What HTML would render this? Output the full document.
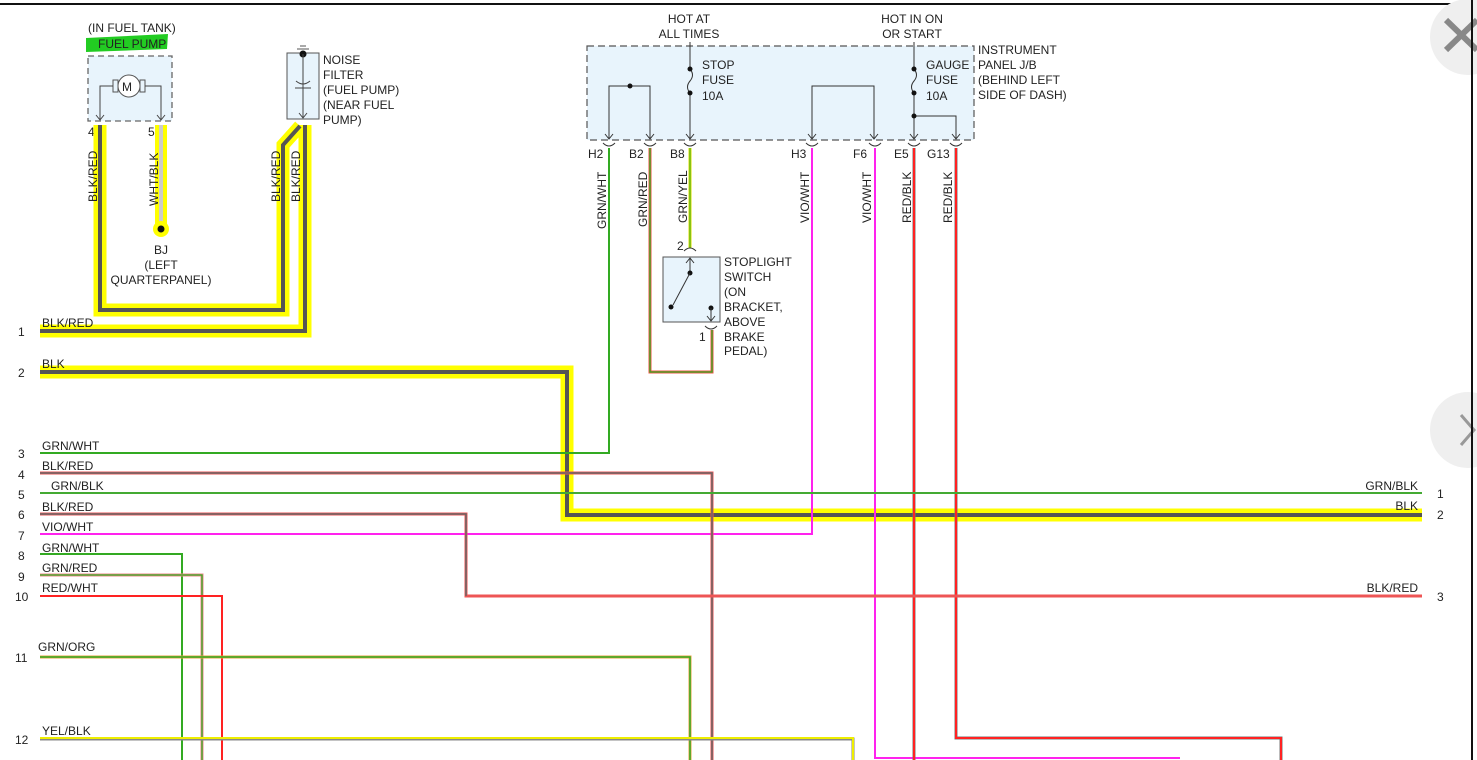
<!DOCTYPE html>
<html><head><meta charset="utf-8"><style>
html,body{margin:0;padding:0;background:#fff;width:1477px;height:760px;overflow:hidden}
svg{display:block}
text{font-family:"Liberation Sans",Arial,sans-serif;font-size:12px;fill:#222}
</style></head><body>
<svg width="1477" height="760" viewBox="0 0 1477 760" xmlns="http://www.w3.org/2000/svg">
<line x1="0" y1="4" x2="1473" y2="4" stroke="#111" stroke-width="2"/>
<line x1="1472" y1="4" x2="1472" y2="760" stroke="#111" stroke-width="2"/>

<text x="88" y="32">(IN FUEL TANK)</text>
<polygon points="86,38 168,34 167,49 86,52" fill="#22cc22"/>
<text x="98" y="48">FUEL PUMP</text>
<rect x="88" y="56" width="84" height="65" fill="#e8f4fc" stroke="#666" stroke-dasharray="6,4" stroke-width="1.3"/>
<circle cx="129" cy="86" r="11" fill="#fff" stroke="#555"/>
<text x="122" y="91" font-size="14">M</text>
<rect x="113" y="80" width="5" height="12" fill="none" stroke="#555"/>
<rect x="140" y="80" width="5" height="12" fill="none" stroke="#555"/>
<polyline points="113,86 100,86 100,120" fill="none" stroke="#444"/>
<polyline points="145,86 161,86 161,120" fill="none" stroke="#444"/>
<polyline points="96,115 100,120 104,115" fill="none" stroke="#444"/>
<polyline points="157,115 161,120 165,115" fill="none" stroke="#444"/>
<text x="88" y="136">4</text><text x="148" y="136">5</text>

<rect x="287" y="53" width="32" height="66" fill="#e8f4fc" stroke="#555"/>
<line x1="297" y1="49" x2="309" y2="49" stroke="#555"/><line x1="300" y1="46" x2="306" y2="46" stroke="#555"/>
<circle cx="303" cy="54" r="3.5" fill="#111"/>
<line x1="303" y1="54" x2="303" y2="118" stroke="#444"/>
<path d="M296,81 Q303,87 310,81" fill="none" stroke="#444"/>
<line x1="295" y1="88" x2="311" y2="88" stroke="#444"/>
<polyline points="299,113 303,118 307,113" fill="none" stroke="#444"/>
<text x="323" y="64">NOISE</text><text x="323" y="79">FILTER</text><text x="323" y="94">(FUEL PUMP)</text><text x="323" y="109">(NEAR FUEL</text><text x="323" y="124">PUMP)</text>

<g fill="none" stroke-linejoin="miter">
<polyline points="100,125 100,310 283,310 283,145 300,126" stroke="#ffff00" stroke-width="13"/>
<polyline points="305,125 305,331 40,331" stroke="#ffff00" stroke-width="13"/>
<polyline points="161,125 161,228" stroke="#ffff00" stroke-width="12"/>
<polyline points="40,372 567,372 567,515 1422,515" stroke="#ffff00" stroke-width="13"/>
<polyline points="100,125 100,310 283,310 283,145 300,126" stroke="#555" stroke-width="4"/>
<polyline points="305,125 305,331 40,331" stroke="#555" stroke-width="4"/>
<polyline points="161,125 161,228" stroke="#ccc" stroke-width="4"/>
<polyline points="40,372 567,372 567,515 1422,515" stroke="#555" stroke-width="4"/>
</g>
<circle cx="161" cy="229" r="8" fill="#ffff00"/><circle cx="161" cy="229" r="3.5" fill="#111"/>
<text x="161" y="254" text-anchor="middle">BJ</text>
<text x="161" y="269" text-anchor="middle">(LEFT</text>
<text x="161" y="284" text-anchor="middle">QUARTERPANEL)</text>
<text transform="translate(97,202) rotate(-90)">BLK/RED</text>
<text transform="translate(158,206) rotate(-90)">WHT/BLK</text>
<text transform="translate(280,202) rotate(-90)">BLK/RED</text>
<text transform="translate(300,202) rotate(-90)">BLK/RED</text>

<text x="689" y="23" text-anchor="middle">HOT AT</text><text x="689" y="38" text-anchor="middle">ALL TIMES</text>
<text x="912" y="23" text-anchor="middle">HOT IN ON</text><text x="912" y="38" text-anchor="middle">OR START</text>
<rect x="587" y="46" width="387" height="94" fill="#e8f4fc" stroke="#555" stroke-dasharray="7,4" stroke-width="1.2"/>
<text x="978" y="54">INSTRUMENT</text><text x="978" y="69">PANEL J/B</text><text x="978" y="84">(BEHIND LEFT</text><text x="978" y="99">SIDE OF DASH)</text>
<g stroke="#333" fill="none">
<polyline points="609,139 609,86 650,86 650,139"/>
<polyline points="812,139 812,86 874,86 874,139"/>
<path d="M690,42 V69 Q695,75 690,81 Q685,87 690,93 V139"/>
<path d="M914,42 V69 Q919,75 914,81 Q909,87 914,93 V139"/>
<polyline points="914,116 956,116 956,139"/>
</g>
<g fill="#111"><circle cx="630" cy="86" r="2.5"/><circle cx="690" cy="69" r="2.5"/><circle cx="690" cy="93" r="2.5"/><circle cx="914" cy="69" r="2.5"/><circle cx="914" cy="93" r="2.5"/><circle cx="914" cy="116" r="2.5"/></g>
<text x="702" y="69">STOP</text><text x="702" y="84">FUSE</text><text x="702" y="100">10A</text>
<text x="926" y="69">GAUGE</text><text x="926" y="84">FUSE</text><text x="926" y="100">10A</text>
<g stroke="#333" fill="none">
<path d="M605,134 l4,5 l4,-5 M646,134 l4,5 l4,-5 M686,134 l4,5 l4,-5 M808,134 l4,5 l4,-5 M870,134 l4,5 l4,-5 M910,134 l4,5 l4,-5 M952,134 l4,5 l4,-5"/>
<path d="M603,143 q6,6 12,0 M644,143 q6,6 12,0 M684,143 q6,6 12,0 M806,143 q6,6 12,0 M869,143 q6,6 12,0 M908,143 q6,6 12,0 M950,143 q6,6 12,0"/>
</g>
<text x="588" y="158">H2</text><text x="629" y="158">B2</text><text x="670" y="158">B8</text><text x="791" y="158">H3</text><text x="853" y="158">F6</text><text x="894" y="158">E5</text><text x="927" y="158">G13</text>

<g fill="none" stroke-width="2">
<polyline points="609,148 609,453 40,453" stroke="#33aa22"/>
<polyline points="650,148 650,372 712,372 712,330" stroke="#ee5544" stroke-width="3"/>
<polyline points="650,148 650,372 712,372 712,330" stroke="#33aa22" stroke-width="1.3"/>
<line x1="690" y1="148" x2="690" y2="248" stroke="#dddd00" stroke-width="3"/>
<line x1="690" y1="148" x2="690" y2="248" stroke="#33aa22" stroke-width="1"/>
<polyline points="812,148 812,534 40,534" stroke="#ff22ee"/>
<polyline points="875,148 875,758 1180,758" stroke="#ff22ee"/>
<line x1="914" y1="148" x2="914" y2="760" stroke="#777" stroke-width="3"/>
<line x1="914" y1="148" x2="914" y2="760" stroke="#ff2222"/>
<polyline points="956,148 956,738 1281,738 1281,760" stroke="#777" stroke-width="3"/>
<polyline points="956,148 956,738 1281,738 1281,760" stroke="#ff2222"/>
</g>
<text transform="translate(606,229) rotate(-90)">GRN/WHT</text>
<text transform="translate(647,227) rotate(-90)">GRN/RED</text>
<text transform="translate(687,223) rotate(-90)">GRN/YEL</text>
<text transform="translate(809,223) rotate(-90)">VIO/WHT</text>
<text transform="translate(871,223) rotate(-90)">VIO/WHT</text>
<text transform="translate(911,223) rotate(-90)">RED/BLK</text>
<text transform="translate(952,223) rotate(-90)">RED/BLK</text>

<rect x="663" y="257" width="57" height="65" fill="#e8f4fc" stroke="#555"/>
<path d="M684,251 q6,-6 12,0" stroke="#333" fill="none"/>
<text x="677" y="250">2</text>
<line x1="690" y1="258" x2="690" y2="272" stroke="#333"/><path d="M686,263 l4,-5 l4,5" stroke="#333" fill="none"/>
<circle cx="690" cy="273" r="2.5" fill="#111"/>
<line x1="690" y1="273" x2="673" y2="305" stroke="#333"/>
<circle cx="671" cy="307" r="2.5" fill="#111"/>
<circle cx="711" cy="308" r="2.5" fill="#111"/>
<line x1="711" y1="308" x2="711" y2="321" stroke="#333"/><path d="M707,316 l4,5 l4,-5" stroke="#333" fill="none"/>
<path d="M705,326 q6,6 12,0" stroke="#333" fill="none"/>
<text x="699" y="341">1</text>
<text x="724" y="266">STOPLIGHT</text><text x="724" y="281">SWITCH</text><text x="724" y="296">(ON</text><text x="724" y="311">BRACKET,</text><text x="724" y="326">ABOVE</text><text x="724" y="341">BRAKE</text><text x="724" y="355">PEDAL)</text>

<g fill="none" stroke-width="2">
<polyline points="40,473 712,473 712,760" stroke="#ee5555" stroke-width="3"/>
<polyline points="40,473 712,473 712,760" stroke="#666" stroke-width="1.5"/>
<line x1="40" y1="493" x2="1422" y2="493" stroke="#44aa33"/>
<polyline points="40,514 466,514 466,596 1422,596" stroke="#ee5555" stroke-width="3"/>
<polyline points="40,514 466,514 466,596" stroke="#666" stroke-width="1.5"/>
<polyline points="40,554 182,554 182,760" stroke="#33aa22"/>
<polyline points="40,575 202,575 202,760" stroke="#ee8888" stroke-width="3"/>
<polyline points="40,575 202,575 202,760" stroke="#33aa22" stroke-width="1.3"/>
<polyline points="40,596 222,596 222,760" stroke="#ff2222"/>
<polyline points="40,657 690,657 690,760" stroke="#e8a040" stroke-width="3"/>
<polyline points="40,657 690,657 690,760" stroke="#33aa22" stroke-width="1.5"/>
<polyline points="40,739 853,739 853,760" stroke="#888" stroke-width="3"/>
<polyline points="40,738 853,738 853,760" stroke="#eeee00" stroke-width="2"/>
</g>
<text x="42" y="327">BLK/RED</text><text x="18" y="336">1</text>
<text x="42" y="368">BLK</text><text x="18" y="377">2</text>
<text x="42" y="450">GRN/WHT</text><text x="18" y="458">3</text>
<text x="42" y="470">BLK/RED</text><text x="18" y="479">4</text>
<text x="51" y="490">GRN/BLK</text><text x="18" y="499">5</text>
<text x="42" y="511">BLK/RED</text><text x="18" y="519">6</text>
<text x="42" y="531">VIO/WHT</text><text x="18" y="540">7</text>
<text x="42" y="552">GRN/WHT</text><text x="18" y="560">8</text>
<text x="42" y="572">GRN/RED</text><text x="18" y="581">9</text>
<text x="42" y="592">RED/WHT</text><text x="15" y="601">10</text>
<text x="38" y="651">GRN/ORG</text><text x="15" y="662">11</text>
<text x="42" y="735">YEL/BLK</text><text x="15" y="744">12</text>

<text x="1418" y="490" text-anchor="end">GRN/BLK</text><text x="1437" y="498">1</text>
<text x="1418" y="510" text-anchor="end">BLK</text><text x="1437" y="519">2</text>
<text x="1418" y="592" text-anchor="end">BLK/RED</text><text x="1437" y="601">3</text>

<circle cx="1468" cy="37" r="38" fill="#efefef"/>
<path d="M1446,20 L1477,50 M1446,50 L1477,20" stroke="#888" stroke-width="6"/>
<circle cx="1468" cy="430" r="38" fill="#efefef"/>
<path d="M1461,415 L1474,430 L1461,445" stroke="#999" stroke-width="3" fill="none"/>
<line x1="1472" y1="0" x2="1472" y2="760" stroke="#111" stroke-width="2"/>
</svg>
</body></html>
